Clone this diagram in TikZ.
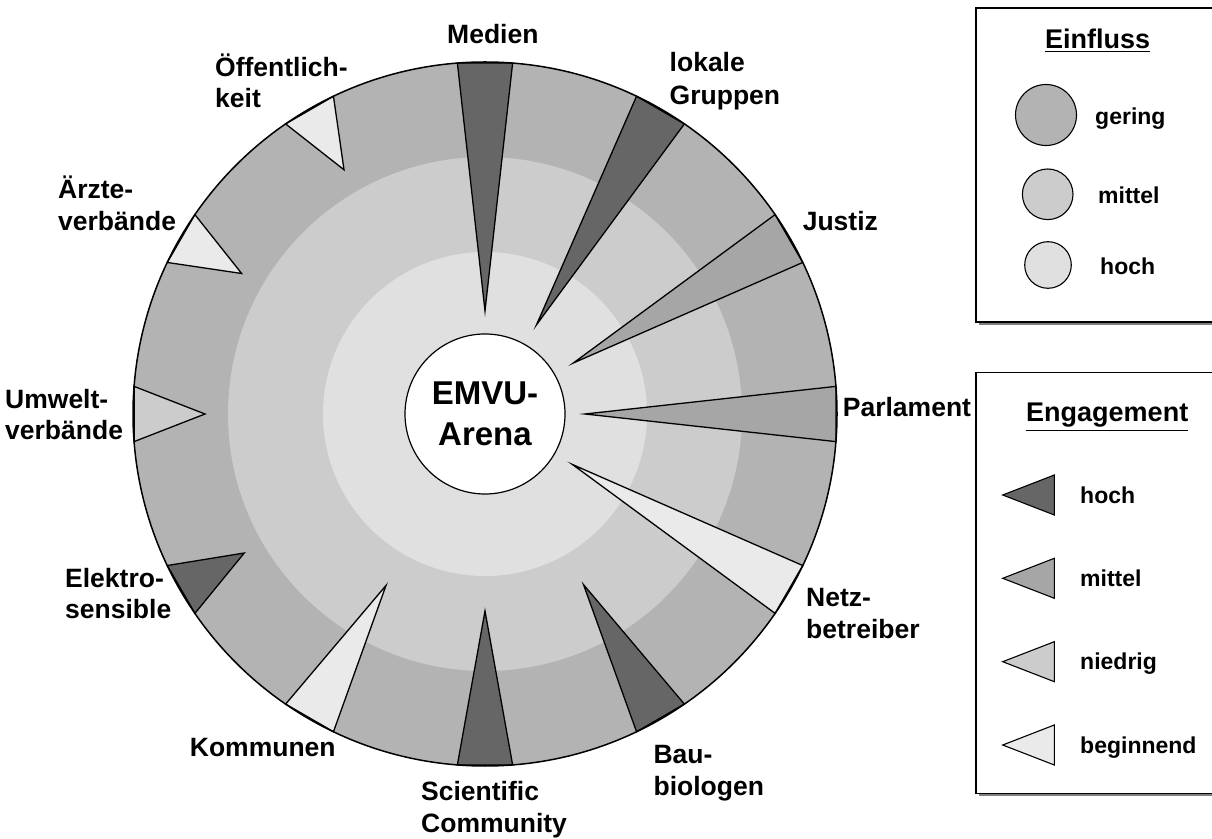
\documentclass[tikz,border=0pt]{standalone}
\usepackage{fontspec}
\setmainfont{Liberation Sans}
\definecolor{ringout}{HTML}{B3B3B3}
\definecolor{ringmid}{HTML}{CCCCCC}
\definecolor{ringin}{HTML}{E0E0E0}
\definecolor{engH}{HTML}{666666}
\definecolor{engM}{HTML}{A6A6A6}
\definecolor{engN}{HTML}{CCCCCC}
\definecolor{engB}{HTML}{EAEAEA}
\definecolor{shadowc}{HTML}{7F7F7F}
\begin{document}
\begin{tikzpicture}[x=1pt,y=1pt,
  lbl/.style={font=\fontsize{26.5}{32}\selectfont\bfseries, inner sep=0pt, anchor=base west},
  leg/.style={font=\fontsize{23}{28}\selectfont\bfseries, inner sep=0pt, anchor=base west},
  ttl/.style={font=\fontsize{27}{32}\selectfont\bfseries, inner sep=0pt, anchor=base west},
  uline/.style={line width=1.3pt},
  tri/.style={draw=black, line width=1.3pt, line join=miter},
  legcirc/.style={circle, draw=black, line width=1.1pt, inner sep=0pt},
  legbox/.style={draw=black, line width=1.3pt, fill=white}
]
\useasboundingbox (0,0) rectangle (1212,838);
\coordinate (C) at (485,424);
% rings
\fill[ringout] (C) circle[radius=352];
\fill[ringmid] (C) circle[radius=257];
\fill[ringin] (C) circle[radius=162];
% engagement wedges
\foreach \a/\r/\c in {90/103/engH, 60/103/engH, 30/102/engM, 0/100/engM,
  -30/101/engB, -60/197/engH, -90/197/engH, -120/198/engB,
  -150/278/engH, 180/280/engN, 150/281/engB, 120/282/engB}
  \draw[tri, fill=\c, shift={(C)}] (\a:\r) -- (\a+4.5:352) -- (\a-4.5:352) -- cycle;
\draw[line width=1.5pt] (C) circle[radius=352];
% centre
\node[circle, draw=black, line width=1.2pt, fill=white, minimum size=160pt, inner sep=0pt,
  align=center, font=\fontsize{33}{41}\selectfont\bfseries] (arena) at (C) {EMVU-\\Arena};
% labels
\node[lbl] (medien) at (447,794) {Medien};
\node[lbl] (lokale1) at (669.5,766) {lokale};
\node[lbl] (lokale2) at (669.5,733.5) {Gruppen};
\node[lbl] (oeff1) at (215,761) {Öffentlich-};
\node[lbl] (oeff2) at (215,730) {keit};
\node[lbl] (aerzte1) at (58,639) {Ärzte-};
\node[lbl] (aerzte2) at (58,607) {verbände};
\node[lbl] (justiz) at (802.6,607.3) {Justiz};
\node[lbl] (umwelt1) at (5,429) {Umwelt-};
\node[lbl] (umwelt2) at (5,398) {verbände};
\node[lbl] (parlament) at (842.7,421.3) {Parlament};
\node[lbl] (elektro1) at (65,250) {Elektro-};
\node[lbl] (elektro2) at (65,219) {sensible};
\node[lbl] (netz1) at (806,231) {Netz-};
\node[lbl] (netz2) at (806,199) {betreiber};
\node[lbl] (kommunen) at (189.7,82) {Kommunen};
\node[lbl] (bau1) at (653.4,74.3) {Bau-};
\node[lbl] (bau2) at (653.4,42.5) {biologen};
\node[lbl] (sci1) at (421,38) {Scientific};
\node[lbl] (sci2) at (421,6) {Community};
% legends
\begin{scope}
\clip (0,0) rectangle (1212,838);
\fill[shadowc] (979,513) rectangle (1216,827);
\draw[legbox] (976,516) rectangle (1216,830);
\fill[shadowc] (979,41.7) rectangle (1216,462.3);
\draw[legbox] (976,44.7) rectangle (1216,465.3);
\end{scope}
\node[ttl] (einfluss) at (1045,789.7) {Einfluss};
\draw[uline] ([yshift=-3pt]einfluss.base west) -- ([yshift=-3pt]einfluss.base east);
\node[legcirc, fill=ringout, minimum size=61pt] (cgering) at (1046,723) {};
\node[legcirc, fill=ringmid, minimum size=50.6pt] (cmittel) at (1047.7,643.7) {};
\node[legcirc, fill=ringin, minimum size=46.6pt] (choch) at (1048,573) {};
\node[leg] (lgering) at (1095,713) {gering};
\node[leg] (lmittel) at (1098,634) {mittel};
\node[leg] (lhoch) at (1100,563) {hoch};
\node[ttl] (engagement) at (1026,416.3) {Engagement};
\draw[uline] ([yshift=-9pt]engagement.base west) -- ([yshift=-9pt]engagement.base east);
\foreach \y/\c in {343/engH, 259.7/engM, 176.3/engN, 93/engB}
  \draw[tri, line width=1.1pt, fill=\c] (1002.7,\y) -- (1054.3,\y+20) -- (1054.3,\y-20) -- cycle;
\node[leg] (ehoch) at (1080,334.7) {hoch};
\node[leg] (emittel) at (1080,251.3) {mittel};
\node[leg] (eniedrig) at (1080,168) {niedrig};
\node[leg] (ebeginnend) at (1080,84.7) {beginnend};
\end{tikzpicture}
\end{document}
